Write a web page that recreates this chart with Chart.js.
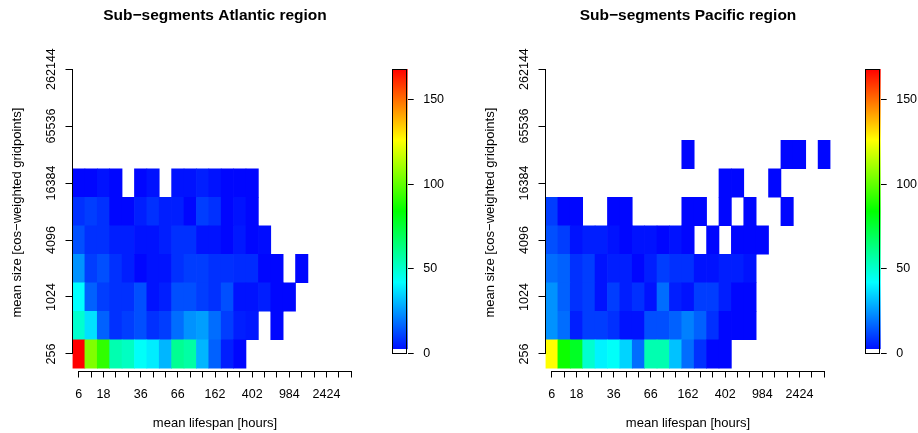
<!DOCTYPE html>
<html lang="en">
<head>
<meta charset="UTF-8">
<title>Sub-segments Atlantic / Pacific</title>
<script src="https://cdn.jsdelivr.net/npm/chart.js"></script>
<style>
  body { margin: 0; background: #fff; overflow: hidden; width: 918px; height: 433px; }
  canvas { position: absolute; top: 0; }
</style>
</head>
<body>

<canvas id="atlantic" width="380" height="433" style="left:0px"></canvas>
<canvas id="atlanticBar" width="66" height="433" style="left:380px"></canvas>
<canvas id="pacific" width="380" height="433" style="left:473px"></canvas>
<canvas id="pacificBar" width="66" height="433" style="left:853px"></canvas>

<script>
    // lifespan bins (x), only some of them carry a label
    var lifespanLabels = ['6', '', '18', '', '', '36', '', '', '66', '', '', '162', '', '', '402', '', '', '984', '', '', '2424', '', ''];
    // size rows as powers of two: 2^8 = 256 ... 2^18 = 262144
    var sizeExponents = [8, 9, 10, 11, 12, 13, 14, 15, 16, 17, 18];
    var colorMax = 168;
    var colorTicks = [0, 50, 100, 150];
    var zeroBand = 2.4; // white part of the colour key

    // counts, one array per size row, index = lifespan bin
    var atl256   = [168, 105, 92, 55, 52, 43, 39, 30, 60, 57, 30, 16, 5, 1];
    var atl512   = [50, 37, 16, 8, 10, 13, 8, 10, 18, 24, 26, 18, 10, 5, 4, 0, 1];
    var atl1024  = [42, 16, 10, 8, 8, 13, 3, 5, 13, 13, 10, 8, 13, 3, 3, 5, 1, 1];
    var atl2048  = [24, 10, 13, 8, 5, 1, 3, 3, 8, 10, 10, 8, 8, 7, 7, 1, 1, 0, 1];
    var atl4096  = [13, 8, 8, 5, 5, 3, 3, 5, 8, 8, 3, 3, 1, 4, 1, 2];
    var atl8192  = [8, 10, 8, 1, 1, 5, 8, 5, 5, 1, 10, 8, 1, 3, 1];
    var atl16384 = [1, 1, 3, 1, 0, 1, 3, 0, 3, 3, 5, 3, 1, 1, 1];

    var pac256   = [126, 86, 78, 50, 40, 43, 35, 18, 55, 55, 32, 18, 8, 1, 1];
    var pac512   = [24, 18, 5, 10, 10, 8, 3, 3, 13, 13, 16, 21, 16, 8, 1, 1, 1];
    var pac1024  = [24, 16, 8, 10, 3, 10, 5, 8, 3, 18, 5, 3, 10, 10, 5, 1, 1];
    var pac2048  = [18, 16, 8, 10, 3, 5, 5, 1, 5, 10, 8, 8, 3, 3, 5, 5, 3];
    var pac4096  = [13, 10, 3, 5, 5, 3, 1, 3, 3, 1, 3, 1, 0, 1, 0, 1, 1, 1];
    var pac8192  = [10, 1, 1, 0, 0, 1, 1, 0, 0, 0, 0, 1, 1, 0, 1, 0, 1, 0, 0, 1];
    var pac16384 = [0, 0, 0, 0, 0, 0, 0, 0, 0, 0, 0, 0, 0, 0, 1, 1, 0, 0, 1];
    var pac32768 = [0, 0, 0, 0, 0, 0, 0, 0, 0, 0, 0, 1, 0, 0, 0, 0, 0, 0, 0, 1, 1, 0, 1];

    var atlanticRows = [atl256, atl512, atl1024, atl2048, atl4096, atl8192, atl16384];
    var pacificRows = [pac256, pac512, pac1024, pac2048, pac4096, pac8192, pac16384, pac32768];

    function heatColor(v) {
        var h = 240 * (1 - Math.min(v, colorMax) / colorMax);
        return 'hsl(' + h.toFixed(1) + ',100%,50%)';
    }

    function rowDatasets(rows) {
        return rows.map(function (counts, i) {
            var e = sizeExponents[i];
            return {
                data: lifespanLabels.map(function (_, j) { return counts[j] ? [e - 0.5, e + 0.5] : null; }),
                backgroundColor: lifespanLabels.map(function (_, j) { return heatColor(counts[j] || 0); }),
                grouped: false,
                barPercentage: 1,
                categoryPercentage: 1,
                borderWidth: 0
            };
        });
    }

    // R style axis lines: only from first to last tick
    var axisLines = {
        id: 'axisLines',
        afterDraw: function (chart) {
            var x = chart.scales.x, y = chart.scales.y, ctx = chart.ctx;
            var by = Math.round(chart.chartArea.bottom) + 0.5;
            var lx = Math.round(chart.chartArea.left) - 0.5;
            ctx.save();
            ctx.strokeStyle = '#000';
            ctx.lineWidth = 1;
            ctx.beginPath();
            ctx.moveTo(x.getPixelForValue(0), by);
            ctx.lineTo(x.getPixelForValue(lifespanLabels.length - 1), by);
            ctx.moveTo(lx, y.getPixelForValue(sizeExponents[0]));
            ctx.lineTo(lx, y.getPixelForValue(sizeExponents[sizeExponents.length - 1]));
            ctx.stroke();
            ctx.restore();
        }
    };

    // box round the colour key
    var keyBox = {
        id: 'keyBox',
        afterDraw: function (chart) {
            var a = chart.chartArea, ctx = chart.ctx;
            ctx.save();
            ctx.strokeStyle = '#000';
            ctx.lineWidth = 1;
            ctx.strokeRect(Math.round(a.left) + 0.5, Math.round(a.top) + 0.5, Math.round(a.right - a.left) - 1, Math.round(a.bottom - a.top));
            ctx.restore();
        }
    };

    var font = "'Liberation Sans', Arial, sans-serif";

    function heatmap(id, title, rows) {
        new Chart(document.getElementById(id), {
            type: 'bar',
            data: { labels: lifespanLabels, datasets: rowDatasets(rows) },
            plugins: [axisLines],
            options: {
                responsive: false,
                animation: false,
                layout: { padding: { left: 0, right: 22.5, top: 0, bottom: 0 } },
                plugins: {
                    legend: { display: false },
                    tooltip: { enabled: false },
                    title: {
                        display: true, text: title, color: '#000', fullSize: false,
                        font: { family: font, size: 15.5, weight: 'bold' },
                        padding: { top: 6.2, bottom: 30 }
                    }
                },
                scales: {
                    x: {
                        ticks: { autoSkip: false, maxRotation: 0, minRotation: 0, color: '#000', padding: 10, font: { family: font, size: 12.5 } },
                        grid: { drawOnChartArea: false, offset: false, tickLength: 7, color: '#000' },
                        border: { display: false },
                        title: { display: true, text: 'mean lifespan [hours]', color: '#000', font: { family: font, size: 13 }, padding: { top: 0, bottom: 2 } },
                        afterFit: function (s) { s.height = 62.5; }
                    },
                    y: {
                        min: 7.42,
                        max: 18.5,
                        afterBuildTicks: function (s) {
                            s.ticks = sizeExponents.map(function (v) { return { value: v }; });
                        },
                        ticks: {
                            callback: function (v) { return v % 2 === 0 ? String(Math.pow(2, v)) : ''; },
                            minRotation: 90, maxRotation: 90, crossAlign: 'center',
                            padding: -7, color: '#000', font: { family: font, size: 12.5 }
                        },
                        grid: { drawOnChartArea: false, tickLength: 7, color: '#000' },
                        border: { display: false },
                        title: { display: true, text: 'mean size [cos−weighted gridpoints]', color: '#000', font: { family: font, size: 13 }, padding: { top: 10, bottom: 0 } },
                        afterFit: function (s) { s.width = 72.5; }
                    }
                }
            }
        });
    }

    function colorBar(id) {
        new Chart(document.getElementById(id), {
            type: 'bar',
            data: {
                labels: [''],
                datasets: [{
                    data: [[0, zeroBand]],
                    backgroundColor: '#fff'
                }, {
                    data: [[zeroBand, colorMax]],
                    backgroundColor: function (c) {
                        var area = c.chart.chartArea;
                        if (!area) return 'blue';
                        var g = c.chart.ctx.createLinearGradient(0, area.bottom, 0, area.top);
                        for (var i = 0; i <= 24; i++) g.addColorStop(i / 24, heatColor(colorMax * i / 24));
                        return g;
                    }
                }]
            },
            plugins: [keyBox],
            options: {
                responsive: false,
                animation: false,
                datasets: { bar: { grouped: false, barPercentage: 1, categoryPercentage: 1, borderWidth: 0 } },
                layout: { padding: { left: 12.3, right: 0, top: 69, bottom: 79.7 } },
                plugins: { legend: { display: false }, tooltip: { enabled: false } },
                scales: {
                    x: { display: false },
                    y: {
                        position: 'right',
                        min: 0,
                        max: colorMax,
                        afterBuildTicks: function (s) {
                            s.ticks = colorTicks.map(function (v) { return { value: v }; });
                        },
                        ticks: { color: '#000', padding: 9.5, font: { family: font, size: 12.5 } },
                        grid: { drawOnChartArea: false, tickLength: 6, color: '#000' },
                        border: { display: false },
                        afterFit: function (s) { s.width = 38.3; }
                    }
                }
            }
        });
    }

    heatmap('atlantic', 'Sub−segments Atlantic region', atlanticRows);
    colorBar('atlanticBar');
    heatmap('pacific', 'Sub−segments Pacific region', pacificRows);
    colorBar('pacificBar');
</script>

</body>
</html>
